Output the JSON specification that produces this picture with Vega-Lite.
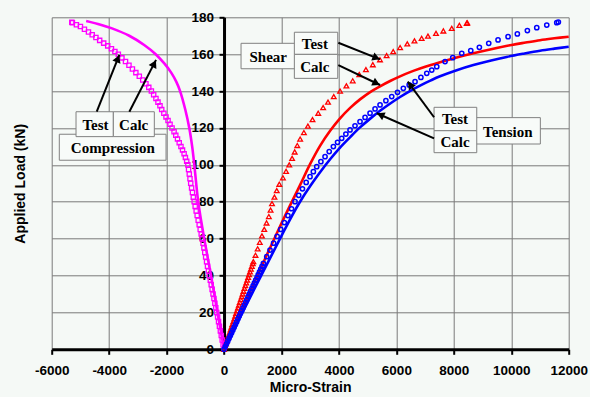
{
  "$schema": "https://vega.github.io/schema/vega-lite/v6.json",
  "width": 517,
  "height": 332,
  "autosize": {"type": "none"},
  "padding": {"left": 51.7, "top": 17.3, "right": 21.3, "bottom": 47.7},
  "background": "#f5f9f6",
  "config": {"view": {"stroke": null, "fill": "#f5f9f6"}},
  "datasets": {
    "curves": [
      {"s":"ct","strain":0,"load":0},{"s":"ct","strain":-32,"load":2.5},{"s":"ct","strain":-64,"load":5},{"s":"ct","strain":-96,"load":7.5},{"s":"ct","strain":-128,"load":10},{"s":"ct","strain":-160,"load":12.5},{"s":"ct","strain":-191,"load":15},{"s":"ct","strain":-223,"load":17.5},{"s":"ct","strain":-255,"load":20},{"s":"ct","strain":-287,"load":22.5},{"s":"ct","strain":-319,"load":25},{"s":"ct","strain":-351,"load":27.5},{"s":"ct","strain":-383,"load":30},{"s":"ct","strain":-414,"load":32.5},{"s":"ct","strain":-446,"load":35},{"s":"ct","strain":-478,"load":37.5},{"s":"ct","strain":-510,"load":40},{"s":"ct","strain":-543,"load":42.5},{"s":"ct","strain":-575,"load":45},{"s":"ct","strain":-608,"load":47.5},{"s":"ct","strain":-640,"load":50},{"s":"ct","strain":-670,"load":52.5},{"s":"ct","strain":-700,"load":55},{"s":"ct","strain":-730,"load":57.5},{"s":"ct","strain":-760,"load":60},{"s":"ct","strain":-795,"load":62.5},{"s":"ct","strain":-830,"load":65},{"s":"ct","strain":-865,"load":67.5},{"s":"ct","strain":-900,"load":70},{"s":"ct","strain":-935,"load":72.5},{"s":"ct","strain":-970,"load":75},{"s":"ct","strain":-1005,"load":77.5},{"s":"ct","strain":-1040,"load":80},{"s":"ct","strain":-1070,"load":82.5},{"s":"ct","strain":-1100,"load":85},{"s":"ct","strain":-1130,"load":87.5},{"s":"ct","strain":-1160,"load":90},{"s":"ct","strain":-1185,"load":92.5},{"s":"ct","strain":-1210,"load":95},{"s":"ct","strain":-1235,"load":97.5},{"s":"ct","strain":-1260,"load":100},{"s":"ct","strain":-1300,"load":102},{"s":"ct","strain":-1345,"load":104},{"s":"ct","strain":-1390,"load":106},{"s":"ct","strain":-1445,"load":108},{"s":"ct","strain":-1500,"load":110},{"s":"ct","strain":-1560,"load":112},{"s":"ct","strain":-1620,"load":114},{"s":"ct","strain":-1680,"load":116},{"s":"ct","strain":-1740,"load":118},{"s":"ct","strain":-1810,"load":120},{"s":"ct","strain":-1880,"load":122},{"s":"ct","strain":-1950,"load":124},{"s":"ct","strain":-2020,"load":126},{"s":"ct","strain":-2095,"load":128},{"s":"ct","strain":-2170,"load":130},{"s":"ct","strain":-2230,"load":132},{"s":"ct","strain":-2300,"load":134},{"s":"ct","strain":-2370,"load":136},{"s":"ct","strain":-2450,"load":138},{"s":"ct","strain":-2530,"load":140},{"s":"ct","strain":-2620,"load":142},{"s":"ct","strain":-2720,"load":144},{"s":"ct","strain":-2830,"load":146},{"s":"ct","strain":-2950,"load":148},{"s":"ct","strain":-3070,"load":150},{"s":"ct","strain":-3190,"load":152},{"s":"ct","strain":-3310,"load":154},{"s":"ct","strain":-3430,"load":156},{"s":"ct","strain":-3555,"load":158},{"s":"ct","strain":-3680,"load":160},{"s":"ct","strain":-3800,"load":161.5},{"s":"ct","strain":-3920,"load":163},{"s":"ct","strain":-4050,"load":164.5},{"s":"ct","strain":-4190,"load":166},{"s":"ct","strain":-4330,"load":167.5},{"s":"ct","strain":-4460,"load":169},{"s":"ct","strain":-4590,"load":170.5},{"s":"ct","strain":-4720,"load":172},{"s":"ct","strain":-4860,"load":173.5},{"s":"ct","strain":-5000,"load":175},{"s":"ct","strain":-5140,"load":176},{"s":"ct","strain":-5280,"load":177},{"s":"ct","strain":-5300,"load":177.3},
      {"s":"cc","strain":0,"load":0},{"s":"cc","strain":-228,"load":20},{"s":"cc","strain":-455,"load":40},{"s":"cc","strain":-690,"load":60},{"s":"cc","strain":-800,"load":70},{"s":"cc","strain":-900,"load":80},{"s":"cc","strain":-970,"load":90},{"s":"cc","strain":-1035,"load":100},{"s":"cc","strain":-1110,"load":110},{"s":"cc","strain":-1210,"load":120},{"s":"cc","strain":-1350,"load":130},{"s":"cc","strain":-1530,"load":140},{"s":"cc","strain":-1660,"load":145},{"s":"cc","strain":-1840,"load":150},{"s":"cc","strain":-2080,"load":155},{"s":"cc","strain":-2380,"load":160},{"s":"cc","strain":-2780,"load":165},{"s":"cc","strain":-3300,"load":170},{"s":"cc","strain":-3900,"load":174},{"s":"cc","strain":-4300,"load":176},{"s":"cc","strain":-4800,"load":178},
      {"s":"sc","strain":0,"load":0},{"s":"sc","strain":500,"load":17.2},{"s":"sc","strain":1000,"load":34.4},{"s":"sc","strain":1500,"load":51.5},{"s":"sc","strain":2000,"load":68.3},{"s":"sc","strain":2300,"load":78},{"s":"sc","strain":2646,"load":89},{"s":"sc","strain":3000,"load":100.5},{"s":"sc","strain":3343,"load":110.3},{"s":"sc","strain":3700,"load":118.6},{"s":"sc","strain":4039,"load":125.2},{"s":"sc","strain":4400,"load":131},{"s":"sc","strain":4735,"load":135.5},{"s":"sc","strain":5100,"load":139.6},{"s":"sc","strain":5432,"load":142.6},{"s":"sc","strain":5800,"load":145.6},{"s":"sc","strain":6128,"load":148},{"s":"sc","strain":6500,"load":150.4},{"s":"sc","strain":6825,"load":152.2},{"s":"sc","strain":7200,"load":154.1},{"s":"sc","strain":7521,"load":155.6},{"s":"sc","strain":8100,"load":158.2},{"s":"sc","strain":8681,"load":160.5},{"s":"sc","strain":9300,"load":162.7},{"s":"sc","strain":10017,"load":165},{"s":"sc","strain":10500,"load":166.3},{"s":"sc","strain":11003,"load":167.6},{"s":"sc","strain":11500,"load":168.6},{"s":"sc","strain":12000,"load":169.5},
      {"s":"tc","strain":0,"load":0},{"s":"tc","strain":1000,"load":31},{"s":"tc","strain":2000,"load":61.5},{"s":"tc","strain":2300,"load":70.5},{"s":"tc","strain":2646,"load":80},{"s":"tc","strain":3000,"load":88.5},{"s":"tc","strain":3343,"load":96},{"s":"tc","strain":3700,"load":103.2},{"s":"tc","strain":4039,"load":109.4},{"s":"tc","strain":4400,"load":115.2},{"s":"tc","strain":4735,"load":120.3},{"s":"tc","strain":5100,"load":125.2},{"s":"tc","strain":5432,"load":129.3},{"s":"tc","strain":5800,"load":133.4},{"s":"tc","strain":6128,"load":136.8},{"s":"tc","strain":6500,"load":140.3},{"s":"tc","strain":6825,"load":143},{"s":"tc","strain":7200,"load":145.8},{"s":"tc","strain":7521,"load":148},{"s":"tc","strain":8100,"load":151.3},{"s":"tc","strain":8681,"load":154.1},{"s":"tc","strain":9300,"load":156.6},{"s":"tc","strain":9842,"load":158.5},{"s":"tc","strain":10400,"load":160.2},{"s":"tc","strain":11003,"load":161.9},{"s":"tc","strain":11500,"load":163},{"s":"tc","strain":12000,"load":164},
      {"s":"st","strain":0,"load":0},{"s":"st","strain":32,"load":1.5},{"s":"st","strain":64,"load":3},{"s":"st","strain":97,"load":4.5},{"s":"st","strain":129,"load":6},{"s":"st","strain":161,"load":7.5},{"s":"st","strain":194,"load":9},{"s":"st","strain":226,"load":10.5},{"s":"st","strain":258,"load":12},{"s":"st","strain":290,"load":13.5},{"s":"st","strain":323,"load":15},{"s":"st","strain":355,"load":16.5},{"s":"st","strain":387,"load":18},{"s":"st","strain":419,"load":19.5},{"s":"st","strain":452,"load":21},{"s":"st","strain":484,"load":22.5},{"s":"st","strain":516,"load":24},{"s":"st","strain":548,"load":25.5},{"s":"st","strain":581,"load":27},{"s":"st","strain":613,"load":28.5},{"s":"st","strain":645,"load":30},{"s":"st","strain":677,"load":31.5},{"s":"st","strain":710,"load":33},{"s":"st","strain":742,"load":34.5},{"s":"st","strain":774,"load":36},{"s":"st","strain":806,"load":37.5},{"s":"st","strain":839,"load":39},{"s":"st","strain":871,"load":40.5},{"s":"st","strain":903,"load":42},{"s":"st","strain":935,"load":43.5},{"s":"st","strain":968,"load":45},{"s":"st","strain":1000,"load":46.5},{"s":"st","strain":1021,"load":47.5},{"s":"st","strain":1095,"load":51},{"s":"st","strain":1170,"load":54.5},{"s":"st","strain":1245,"load":58},{"s":"st","strain":1320,"load":61.5},{"s":"st","strain":1400,"load":65},{"s":"st","strain":1480,"load":68.5},{"s":"st","strain":1560,"load":72},{"s":"st","strain":1620,"load":75.5},{"s":"st","strain":1670,"load":79},{"s":"st","strain":1755,"load":82.5},{"s":"st","strain":1835,"load":86},{"s":"st","strain":1925,"load":89.5},{"s":"st","strain":2050,"load":93},{"s":"st","strain":2160,"load":96.5},{"s":"st","strain":2270,"load":100},{"s":"st","strain":2370,"load":103.5},{"s":"st","strain":2460,"load":107},{"s":"st","strain":2550,"load":110.5},{"s":"st","strain":2650,"load":114},{"s":"st","strain":2780,"load":117.5},{"s":"st","strain":2920,"load":121},{"s":"st","strain":3080,"load":124.5},{"s":"st","strain":3280,"load":128},{"s":"st","strain":3450,"load":131},{"s":"st","strain":3620,"load":134},{"s":"st","strain":3820,"load":137},{"s":"st","strain":4040,"load":140},{"s":"st","strain":4260,"load":142.8},{"s":"st","strain":4480,"load":145.6},{"s":"st","strain":4710,"load":149},{"s":"st","strain":4940,"load":151.6},{"s":"st","strain":5180,"load":154.3},{"s":"st","strain":5430,"load":157},{"s":"st","strain":5660,"load":159.2},{"s":"st","strain":5890,"load":161.4},{"s":"st","strain":6130,"load":163.6},{"s":"st","strain":6380,"load":165.6},{"s":"st","strain":6630,"load":167.2},{"s":"st","strain":6880,"load":168.6},{"s":"st","strain":7100,"load":169.8},{"s":"st","strain":7380,"load":171.3},{"s":"st","strain":7636,"load":172.6},{"s":"st","strain":7928,"load":174},{"s":"st","strain":8193,"load":175.6},{"s":"st","strain":8450,"load":176.8},{"s":"st","strain":8470,"load":177},
      {"s":"tt","strain":0,"load":0},{"s":"tt","strain":44,"load":1.5},{"s":"tt","strain":88,"load":3},{"s":"tt","strain":132,"load":4.5},{"s":"tt","strain":176,"load":6},{"s":"tt","strain":221,"load":7.5},{"s":"tt","strain":265,"load":9},{"s":"tt","strain":309,"load":10.5},{"s":"tt","strain":353,"load":12},{"s":"tt","strain":397,"load":13.5},{"s":"tt","strain":441,"load":15},{"s":"tt","strain":485,"load":16.5},{"s":"tt","strain":529,"load":18},{"s":"tt","strain":573,"load":19.5},{"s":"tt","strain":617,"load":21},{"s":"tt","strain":662,"load":22.5},{"s":"tt","strain":706,"load":24},{"s":"tt","strain":750,"load":25.5},{"s":"tt","strain":794,"load":27},{"s":"tt","strain":838,"load":28.5},{"s":"tt","strain":882,"load":30},{"s":"tt","strain":926,"load":31.5},{"s":"tt","strain":970,"load":33},{"s":"tt","strain":1014,"load":34.5},{"s":"tt","strain":1058,"load":36},{"s":"tt","strain":1103,"load":37.5},{"s":"tt","strain":1147,"load":39},{"s":"tt","strain":1191,"load":40.5},{"s":"tt","strain":1235,"load":42},{"s":"tt","strain":1279,"load":43.5},{"s":"tt","strain":1323,"load":45},{"s":"tt","strain":1370,"load":46.6},{"s":"tt","strain":1486,"load":50.2},{"s":"tt","strain":1602,"load":53.8},{"s":"tt","strain":1726,"load":57.5},{"s":"tt","strain":1850,"load":61.2},{"s":"tt","strain":1975,"load":65},{"s":"tt","strain":2100,"load":68.7},{"s":"tt","strain":2225,"load":72.5},{"s":"tt","strain":2350,"load":76.2},{"s":"tt","strain":2472,"load":80},{"s":"tt","strain":2600,"load":83.5},{"s":"tt","strain":2730,"load":87},{"s":"tt","strain":2860,"load":90.5},{"s":"tt","strain":2994,"load":93.6},{"s":"tt","strain":3110,"load":96.3},{"s":"tt","strain":3227,"load":99},{"s":"tt","strain":3372,"load":101.7},{"s":"tt","strain":3517,"load":104.4},{"s":"tt","strain":3662,"load":107.2},{"s":"tt","strain":3807,"load":109.9},{"s":"tt","strain":3952,"load":112.2},{"s":"tt","strain":4097,"load":114.4},{"s":"tt","strain":4242,"load":116.7},{"s":"tt","strain":4387,"load":118.9},{"s":"tt","strain":4560,"load":121.2},{"s":"tt","strain":4735,"load":123.4},{"s":"tt","strain":4910,"load":125.7},{"s":"tt","strain":5084,"load":128},{"s":"tt","strain":5258,"load":130.3},{"s":"tt","strain":5432,"load":132.5},{"s":"tt","strain":5635,"load":134.8},{"s":"tt","strain":5838,"load":137},{"s":"tt","strain":6040,"load":139.3},{"s":"tt","strain":6243,"load":141.5},{"s":"tt","strain":6446,"load":143.3},{"s":"tt","strain":6650,"load":145.1},{"s":"tt","strain":6854,"load":147.4},{"s":"tt","strain":7058,"load":149.6},{"s":"tt","strain":7232,"load":151.4},{"s":"tt","strain":7406,"load":153.2},{"s":"tt","strain":7695,"load":156},{"s":"tt","strain":7963,"load":158.1},{"s":"tt","strain":8276,"load":160.5},{"s":"tt","strain":8590,"load":161.9},{"s":"tt","strain":8890,"load":163.7},{"s":"tt","strain":9216,"load":165.9},{"s":"tt","strain":9540,"load":167.7},{"s":"tt","strain":9889,"load":169.5},{"s":"tt","strain":10212,"load":171},{"s":"tt","strain":10561,"load":172.8},{"s":"tt","strain":10888,"load":174.4},{"s":"tt","strain":11236,"load":175.8},{"s":"tt","strain":11584,"load":177.1},{"s":"tt","strain":11640,"load":177.4}
    ],
    "boxes": [
      {"strain":-5735,"strain2":-2019,"load":102.5,"load2":116.6},
      {"strain":-5153,"strain2":-3854,"load":115.3,"load2":128.8},
      {"strain":-3854,"strain2":-2427,"load":115.3,"load2":128.8},
      {"strain":592,"strain2":2600,"load":152.1,"load2":165.9},
      {"strain":2448,"strain2":3959,"load":159.9,"load2":171.9},
      {"strain":2448,"strain2":3959,"load":146.9,"load2":159.9},
      {"strain":8500,"strain2":11013,"load":111.3,"load2":125.6},
      {"strain":7312,"strain2":8799,"load":118.5,"load2":131.2},
      {"strain":7312,"strain2":8799,"load":106.6,"load2":118.5}
    ],
    "labels": [
      {"strain":-4474,"load":121.6,"text":"Test"},
      {"strain":-3146,"load":121.6,"text":"Calc"},
      {"strain":-3872,"load":109.2,"text":"Compression"},
      {"strain":1538,"load":158.7,"text":"Shear"},
      {"strain":3162,"load":165.4,"text":"Test"},
      {"strain":3162,"load":153.2,"text":"Calc"},
      {"strain":8040,"load":124.6,"text":"Test"},
      {"strain":8040,"load":112.4,"text":"Calc"},
      {"strain":9880,"load":118,"text":"Tension"}
    ],
    "arrows": [
      {"strain":-4432,"load":128.8,"strain2":-3645,"load2":159.6},
      {"strain":-3297,"load":128.8,"strain2":-2368,"load2":156.9},
      {"strain":3980,"load":166.2,"strain2":5432,"load2":157.2},
      {"strain":3980,"load":154.1,"strain2":5432,"load2":143.3},
      {"strain":7312,"load":125.8,"strain2":6396,"load2":145.1},
      {"strain":7312,"load":114.4,"strain2":5317,"load2":128.0}
    ],
    "heads": [
      {"strain":-3698,"load":157.6,"angle":21.7},
      {"strain":-2430,"load":154.9,"angle":27.3},
      {"strain":5303,"load":158.0,"angle":111.7},
      {"strain":5306,"load":144.2,"angle":115.6},
      {"strain":6480,"load":143.4,"angle":323.5},
      {"strain":5446,"load":127.1,"angle":293.6}
    ]
  },
  "data": {"name": "curves"},
  "encoding": {
    "x": {
      "field": "strain", "type": "quantitative",
      "scale": {"domain": [-6000, 12000], "nice": false, "zero": false},
      "axis": {
        "values": [-6000, -4000, -2000, 0, 2000, 4000, 6000, 8000, 10000, 12000],
        "labelExpr": "'' + datum.value",
        "title": "Micro-Strain",
        "grid": true, "gridColor": "#7a7a7a", "gridWidth": 1, "gridOpacity": 1,
        "domainColor": "black", "domainWidth": 3,
        "tickColor": "black", "tickWidth": 2, "tickSize": 5,
        "labelFont": "Liberation Sans", "labelFontSize": 13.5, "labelFontWeight": "bold", "labelColor": "black",
        "labelPadding": 9, "labelFlush": false, "labelOverlap": false,
        "titleFont": "Liberation Sans", "titleFontSize": 14, "titleFontWeight": "bold", "titleColor": "black",
        "titleBaseline": "top", "titleY": 31
      }
    },
    "y": {
      "field": "load", "type": "quantitative",
      "scale": {"domain": [0, 180], "nice": false, "zero": false},
      "axis": {
        "values": [0, 20, 40, 60, 80, 100, 120, 140, 160, 180],
        "labelExpr": "'' + datum.value",
        "offset": -172.33,
        "title": "Applied Load (kN)",
        "grid": true, "gridColor": "#7a7a7a", "gridWidth": 1, "gridOpacity": 1,
        "domainColor": "black", "domainWidth": 3,
        "tickColor": "black", "tickWidth": 2, "tickSize": 5,
        "labelFont": "Liberation Sans", "labelFontSize": 13.5, "labelFontWeight": "bold", "labelColor": "black",
        "labelPadding": 5.5, "labelOverlap": false,
        "titleFont": "Liberation Sans", "titleFontSize": 14, "titleFontWeight": "bold", "titleColor": "black",
        "titleAngle": 270, "titleBaseline": "bottom", "titleAlign": "center",
        "titleX": -196.5, "titleY": 166
      }
    }
  },
  "layer": [
    {
      "transform": [{"filter": "datum.s === 'ct'"}],
      "mark": {"type": "point", "shape": "square", "filled": false, "color": "#ff00ff", "size": 18, "strokeWidth": 1.3, "opacity": 1}
    },
    {
      "transform": [{"filter": "datum.s === 'cc'"}],
      "mark": {"type": "line", "color": "#ff00ff", "strokeWidth": 2.6, "interpolate": "catmull-rom"},
      "encoding": {"order": {"field": "load", "type": "quantitative"}}
    },
    {
      "transform": [{"filter": "datum.s === 'st'"}],
      "mark": {"type": "point", "shape": "triangle-up", "filled": false, "color": "#ff0000", "size": 22, "strokeWidth": 1.3, "opacity": 1}
    },
    {
      "transform": [{"filter": "datum.s === 'sc'"}],
      "mark": {"type": "line", "color": "#ff0000", "strokeWidth": 2.6, "interpolate": "catmull-rom"},
      "encoding": {"order": {"field": "load", "type": "quantitative"}}
    },
    {
      "transform": [{"filter": "datum.s === 'tt'"}],
      "mark": {"type": "point", "shape": "circle", "filled": false, "color": "#0000ff", "size": 18, "strokeWidth": 1.5, "opacity": 1}
    },
    {
      "transform": [{"filter": "datum.s === 'tc'"}],
      "mark": {"type": "line", "color": "#0000ff", "strokeWidth": 2.6, "interpolate": "catmull-rom"},
      "encoding": {"order": {"field": "load", "type": "quantitative"}}
    },
    {
      "data": {"name": "boxes"},
      "mark": {"type": "rect", "fill": "#f8fbf9", "stroke": "#808080", "strokeWidth": 1},
      "encoding": {
        "x2": {"field": "strain2"},
        "y2": {"field": "load2"}
      }
    },
    {
      "data": {"name": "arrows"},
      "mark": {"type": "rule", "color": "black", "strokeWidth": 2},
      "encoding": {
        "x2": {"field": "strain2"},
        "y2": {"field": "load2"}
      }
    },
    {
      "data": {"name": "heads"},
      "mark": {"type": "point", "shape": "triangle-up", "filled": true, "color": "black", "size": 75, "opacity": 1},
      "encoding": {
        "angle": {"field": "angle", "type": "quantitative", "scale": null}
      }
    },
    {
      "data": {"name": "labels"},
      "mark": {"type": "text", "font": "Liberation Serif", "fontWeight": "bold", "fontSize": 15, "color": "black", "baseline": "middle", "align": "center"},
      "encoding": {
        "text": {"field": "text"}
      }
    }
  ]
}
